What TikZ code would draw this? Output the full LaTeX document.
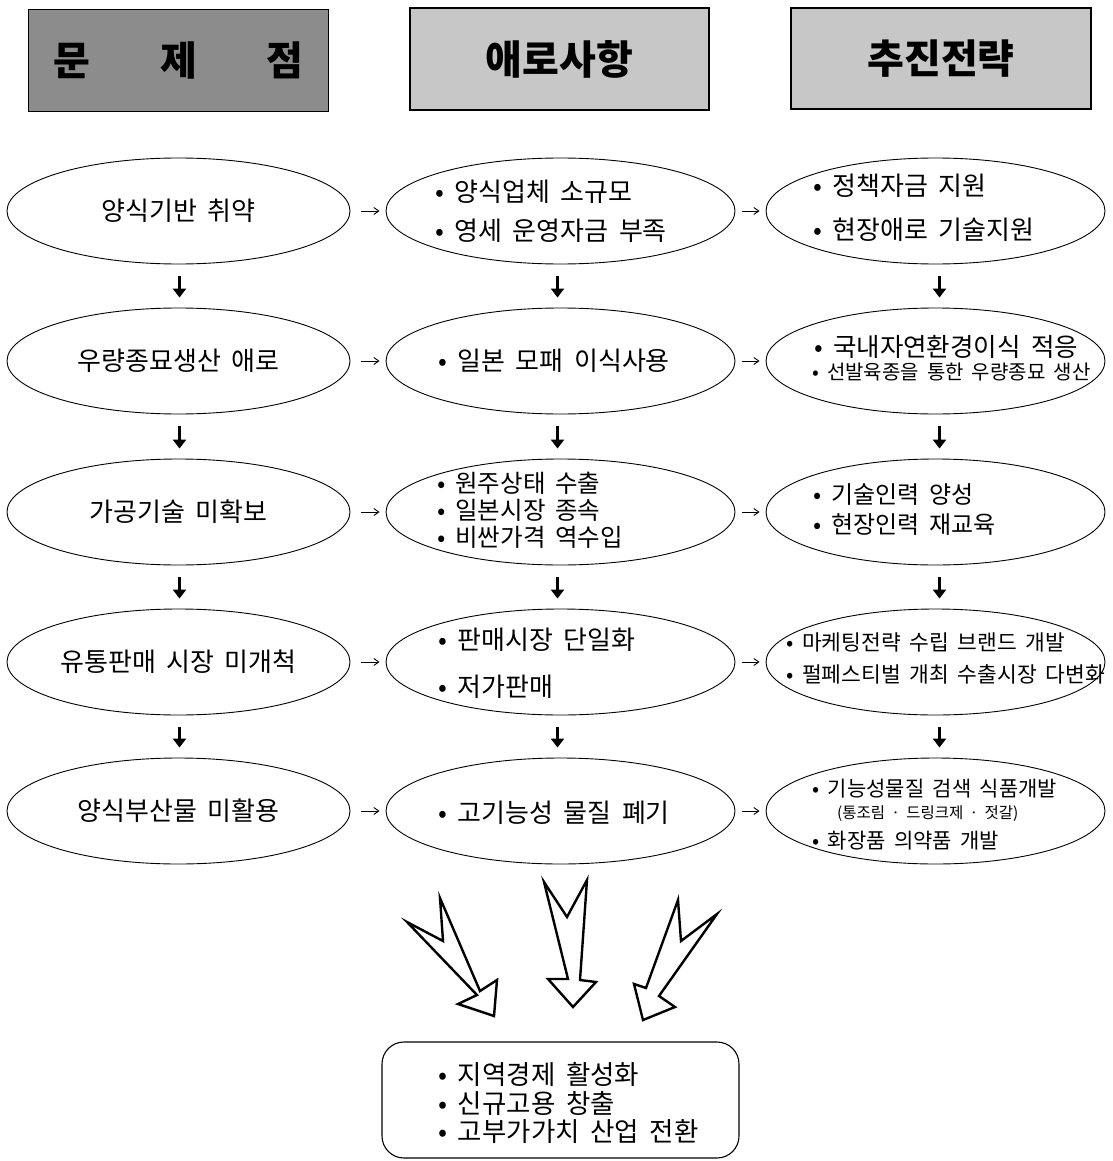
\documentclass[tikz,border=0pt]{standalone}
\usepackage{fontspec}
\setmainfont{Noto Sans CJK KR}[WordSpace=1.8]
\usetikzlibrary{arrows.meta,shapes.geometric}
\newcommand{\fsz}[2]{\fontsize{#1}{#2}\selectfont}
\begin{document}
\begin{tikzpicture}[x=1pt,y=-1pt,
  ell/.style={draw, line width=0.9pt, ellipse, minimum height=106pt, inner sep=0pt},
  ellA/.style={ell, minimum width=343pt, font=\fsz{26}{30}},
  ellB/.style={ell, minimum width=349pt},
  ellC/.style={ell, minimum width=339pt},
  hdr/.style={draw, line width=1.4pt, minimum height=102pt, minimum width=300pt, inner sep=0pt, font=\fsz{40}{44}\bfseries},
  txt/.style={anchor=west, align=left, inner sep=0pt},
  harr/.style={-{Straight Barb[length=5pt,width=7pt]}, line width=0.9pt},
  varr/.style={line width=3.5pt, -{Triangle[length=9pt,width=13pt]}},
  bigarr/.style={line width=2.4pt, line join=miter, fill=white},
  goalbox/.style={draw, line width=1.1pt, rounded corners=22pt, minimum width=357pt, minimum height=116pt, inner sep=0pt}
]
\useasboundingbox (0,0) rectangle (1112,1161);

% headers
\node[hdr, fill=black!45] (h1) at (178.5,60.5) {문\hspace{70pt}제\hspace{70pt}점};
\node[hdr, fill=black!22, minimum width=299pt] (h2) at (559.5,59) {애로사항};
\node[hdr, fill=black!22, minimum height=101pt] (h3) at (941,58.5) {추진전략};

% column 1
\node[ellA] (a1) at (178.5,211) {양식기반 취약};
\node[ellA] (a2) at (178.5,361) {우량종묘생산 애로};
\node[ellA] (a3) at (178.5,512) {가공기술 미확보};
\node[ellA] (a4) at (178.5,662) {유통판매 시장 미개척};
\node[ellA] (a5) at (178.5,811) {양식부산물 미활용};

% column 2
\node[ellB] (b1) at (560.5,211) {};
\node[ellB] (b2) at (560.5,361) {};
\node[ellB] (b3) at (560.5,512) {};
\node[ellB] (b4) at (560.5,662) {};
\node[ellB] (b5) at (560.5,811) {};
\node[txt, font=\fsz{26}{39}] (b1t) at (435,211) {• 양식업체 소규모\\• 영세 운영자금 부족};
\node[txt, font=\fsz{26}{30}] (b2t) at (438,361) {• 일본 모패 이식사용};
\node[txt, font=\fsz{24.5}{27}] (b3t) at (437,510) {• 원주상태 수출\\• 일본시장 종속\\• 비싼가격 역수입};
\node[txt, font=\fsz{26}{47}] (b4t) at (438,663) {• 판매시장 단일화\\• 저가판매};
\node[txt, font=\fsz{26}{30}] (b5t) at (438,813) {• 고기능성 물질 폐기};

% column 3
\node[ellC] (c1) at (935.5,211) {};
\node[ellC] (c2) at (935.5,361) {};
\node[ellC] (c3) at (935.5,512) {};
\node[ellC] (c4) at (935.5,662) {};
\node[ellC] (c5) at (935.5,811) {};
\node[txt, font=\fsz{26}{44}] (c1t) at (813,208) {• 정책자금 지원\\• 현장애로 기술지원};
\node[txt, font=\fsz{25.5}{28}] (c2a) at (814,347) {• 국내자연환경이식 적응};
\node[txt, font=\fsz{20}{24}] (c2b) at (812,372) {• 선발육종을 통한 우량종묘 생산};
\node[txt, font=\fsz{24}{30}] (c3t) at (813,510) {• 기술인력 양성\\• 현장인력 재교육};
\node[txt, font=\fsz{21.5}{32}] (c4t) at (786,658) {• 마케팅전략 수립 브랜드 개발\\• 펄페스티벌 개최 수출시장 다변화};
\node[txt, font=\fsz{21}{24}] (c5a) at (812,789) {• 기능성물질 검색 식품개발};
\node[txt, font=\fsz{15.5}{18}] (c5b) at (837,814) {(통조림 · 드링크제 · 젓갈)};
\node[txt, font=\fsz{21}{26}] (c5c) at (812,841) {• 화장품 의약품 개발};

% horizontal arrows
\foreach \r in {1,...,5}{
  \draw[harr] ([xshift=11pt]a\r.east) -- ([xshift=-6pt]b\r.west);
  \draw[harr] ([xshift=7pt]b\r.east) -- ([xshift=-6pt]c\r.west);
}
% vertical arrows
\foreach \r/\s in {1/2,2/3,3/4,4/5}{
  \draw[varr] ([xshift=1pt,yshift=-12pt]a\r.south) -- ([xshift=1pt,yshift=10pt]a\s.north);
  \draw[varr] ([xshift=-3pt,yshift=-12pt]b\r.south) -- ([xshift=-3pt,yshift=10pt]b\s.north);
  \draw[varr] ([xshift=4pt,yshift=-12pt]c\r.south) -- ([xshift=4pt,yshift=10pt]c\s.north);
}

% big notched arrows
\draw[bigarr] (407,922) -- (443,941) -- (440,898) -- (480,991) -- (497,980) -- (494,1016) -- (458,1004) -- (477,995) -- cycle;
\draw[bigarr] (544,882) -- (567,917) -- (587,880) -- (580,980) -- (596,982) -- (573,1007) -- (548,979) -- (568,979) -- cycle;
\draw[bigarr] (678,900) -- (681,941) -- (717,914) -- (659,996) -- (675,1007) -- (643,1020) -- (634,984) -- (646,988) -- cycle;

% goal box
\node[goalbox] (g) at (560.5,1100) {};
\node[txt, font=\fsz{26.5}{28.5}] (gt) at (438,1103) {• 지역경제 활성화\\• 신규고용 창출\\• 고부가가치 산업 전환};
\end{tikzpicture}
\end{document}
